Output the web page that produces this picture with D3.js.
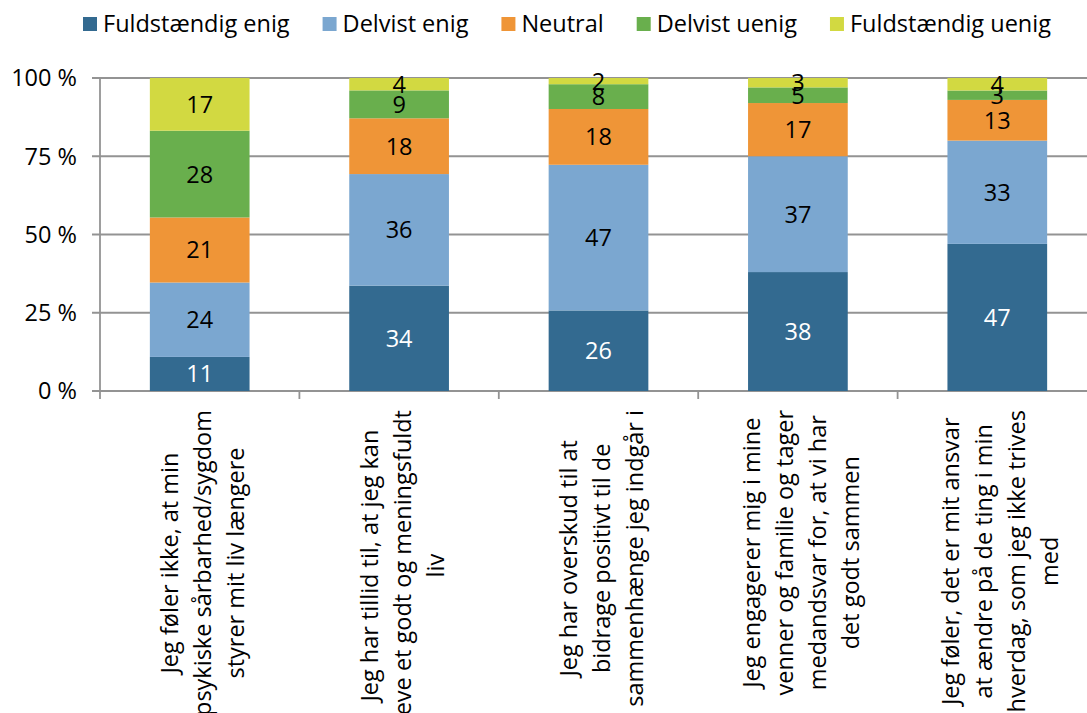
<!DOCTYPE html>
<html>
<head>
<meta charset="utf-8">
<script src="https://cdn.jsdelivr.net/npm/d3@7"></script>
<style>
  html, body { margin: 0; padding: 0; background: #fff; }
  svg { display: block; font-family: "Open Sans", "Noto Sans", sans-serif; }
</style>
</head>
<body>
<svg id="chart" width="1087" height="713"></svg>
<script>
// ---- data ----
const categories = [
  "Jeg føler ikke, at min psykiske sårbarhed/sygdom styrer mit liv længere",
  "Jeg har tillid til, at jeg kan leve et godt og meningsfuldt liv",
  "Jeg har overskud til at bidrage positivt til de sammenhænge jeg indgår i",
  "Jeg engagerer mig i mine venner og familie og tager medandsvar for, at vi har det godt sammen",
  "Jeg føler, det er mit ansvar at ændre på de ting i min hverdag, som jeg ikke trives med"
];
const categoryLines = [
  ["Jeg føler ikke, at min", "psykiske sårbarhed/sygdom", "styrer mit liv længere"],
  ["Jeg har tillid til, at jeg kan", "leve et godt og meningsfuldt", "liv"],
  ["Jeg har overskud til at", "bidrage positivt til de", "sammenhænge jeg indgår i"],
  ["Jeg engagerer mig i mine", "venner og familie og tager", "medandsvar for, at vi har", "det godt sammen"],
  ["Jeg føler, det er mit ansvar", "at ændre på de ting i min", "hverdag, som jeg ikke trives", "med"]
];
const seriesNames = ["Fuldstændig enig", "Delvist enig", "Neutral", "Delvist uenig", "Fuldstændig uenig"];
const fuldstaendigEnig = [11, 34, 26, 38, 47];
const delvistEnig      = [24, 36, 47, 37, 33];
const neutral          = [21, 18, 18, 17, 13];
const delvistUenig     = [28, 9, 8, 5, 3];
const fuldstaendigUenig= [17, 4, 2, 3, 4];
const seriesValues = [fuldstaendigEnig, delvistEnig, neutral, delvistUenig, fuldstaendigUenig];
const seriesColors = ["#336a90", "#7ba7d0", "#ef9537", "#69af4d", "#d2d941"];
const labelColors  = ["#ffffff", "#000000", "#000000", "#000000", "#000000"];
const yTicks = [0, 0.25, 0.5, 0.75, 1];
const yTickLabels = ["0 %", "25 %", "50 %", "75 %", "100 %"];

// ---- build table ----
const table = categories.map((c, i) => {
  const row = { category: c };
  seriesNames.forEach((s, j) => row[s] = seriesValues[j][i]);
  return row;
});
const stacked = d3.stack().keys(seriesNames).offset(d3.stackOffsetExpand)(table);

const svg = d3.select("#chart");
const fontSize = 23.5;
const gridColor = "#939393";

const x = d3.scaleBand().domain(categories).range([100, 1097]).paddingInner(0.5).paddingOuter(0.25);
const y = d3.scaleLinear().domain([0, 1]).range([391, 78]);

// gridlines
svg.append("g").selectAll("line").data(yTicks).join("line")
  .attr("x1", 92).attr("x2", 1097)
  .attr("y1", d => y(d)).attr("y2", d => y(d))
  .attr("stroke", gridColor).attr("stroke-width", 1.8);

// y axis line
svg.append("line").attr("x1", 100).attr("x2", 100).attr("y1", y(1)).attr("y2", y(0) + 8)
  .attr("stroke", gridColor).attr("stroke-width", 1.8);

// category separator ticks
const step = x.step();
svg.append("g").selectAll("line").data(d3.range(1, categories.length + 1)).join("line")
  .attr("x1", d => 100 + d * step).attr("x2", d => 100 + d * step)
  .attr("y1", y(0)).attr("y2", y(0) + 8)
  .attr("stroke", gridColor).attr("stroke-width", 1.8);

// y tick labels
svg.append("g").selectAll("text").data(yTicks).join("text")
  .attr("x", 77).attr("y", d => y(d)).attr("dy", "0.36em")
  .attr("text-anchor", "end").attr("font-size", fontSize).attr("fill", "#000")
  .text((d, i) => yTickLabels[i]);

// bars
const layers = svg.append("g").selectAll("g").data(stacked).join("g")
  .attr("fill", (d, i) => seriesColors[i]);
layers.selectAll("rect").data(d => d).join("rect")
  .attr("x", d => x(d.data.category))
  .attr("width", x.bandwidth())
  .attr("y", d => y(d[1]))
  .attr("height", d => y(d[0]) - y(d[1]));

// data labels
stacked.forEach((layer, i) => {
  svg.append("g").selectAll("text").data(layer).join("text")
    .attr("x", d => x(d.data.category) + x.bandwidth() / 2)
    .attr("y", d => (y(d[0]) + y(d[1])) / 2)
    .attr("dy", "0.36em")
    .attr("text-anchor", "middle")
    .attr("font-size", fontSize)
    .attr("fill", labelColors[i])
    .text(d => d.data[layer.key]);
});

// legend
const legend = svg.append("g");
let lx = 83;
seriesNames.forEach((s, i) => {
  legend.append("rect").attr("x", lx).attr("y", 17).attr("width", 14).attr("height", 14)
    .attr("fill", seriesColors[i]);
  const t = legend.append("text").attr("x", lx + 20).attr("y", 24).attr("dy", "0.36em")
    .attr("font-size", fontSize).attr("fill", "#000").text(s);
  lx += 20 + t.node().getComputedTextLength() + 33;
});

// category labels (rotated, multi-line, centered)
const lineGap = 33;
categories.forEach((c, i) => {
  const lines = categoryLines[i];
  const cx = x(c) + x.bandwidth() / 2 + 3;
  const g = svg.append("text").attr("font-size", fontSize).attr("fill", "#000")
    .attr("text-anchor", "middle");
  lines.forEach((ln, k) => {
    g.append("tspan").attr("x", 0)
      .attr("y", (k - (lines.length - 1) / 2) * lineGap + fontSize * 0.36)
      .text(ln);
  });
  let lmax = 0;
  g.selectAll("tspan").each(function() { lmax = Math.max(lmax, this.getComputedTextLength()); });
  const cy = 410 + lmax / 2;
  g.attr("transform", `translate(${cx},${cy}) rotate(-90)`);
});
</script>
</body>
</html>
